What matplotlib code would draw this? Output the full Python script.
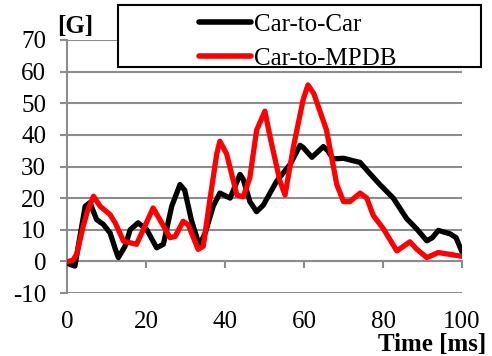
import matplotlib.pyplot as plt
from matplotlib.patches import Rectangle

# Deceleration pulses, time in ms and acceleration in G
car_t = [0, 0.8, 2, 3.3, 4.6, 5.8, 7.5, 9.2, 10.9, 12.2, 13, 14.7, 16, 18, 20.2,
         22.7, 24.4, 26.5, 28.6, 29.8, 31.5, 33.5, 35, 37, 38.7, 41.3, 43.8, 44.6,
         46.3, 48, 49.7, 53.1, 56.5, 59, 59.8, 62, 64.9, 66, 67.4, 70, 72.5, 74.2,
         76.5, 79.2, 82.6, 86, 88.5, 91.1, 92.5, 94, 97, 98.5, 100]
car_g = [-0.3, -1, -1.5, 8, 17.4, 18.6, 13.2, 11.7, 9, 4, 1.2, 4.8, 10, 12.2, 10,
         4.3, 5.4, 17.4, 24.3, 22.5, 13, 5, 9, 17.4, 21.6, 20, 27.5, 26,
         18.9, 15.7, 17.8, 25.4, 30.7, 36.7, 36, 32.9, 36.3, 35, 32.4, 32.6, 31.8, 31.3,
         28, 24.3, 20, 13.5, 10.3, 6.5, 7.5, 9.8, 8.7, 7.5, 3]

mpdb_t = [0, 1.6, 2.5, 4.1, 5.2, 6.7, 8.4, 10.9, 12.2, 14.3, 17.6, 19.7, 21.8, 23.5,
          26.1, 27.4, 29.4, 30.7, 33.2, 34.5, 36, 37.9, 38.7, 40.4, 43, 44.6, 46.3,
          48, 50.1, 51.4, 53.9, 55.2, 57.3, 59.8, 61, 62.5, 65.7, 68.3, 70, 71.6,
          74.2, 75.9, 77.5, 80.1, 83.5, 86.8, 88.5, 91.1, 94, 97, 100]
mpdb_g = [-0.2, 0.5, 2.5, 11.1, 16, 20.6, 17.4, 14.8, 12.2, 6.4, 5.4, 11.1, 16.9, 13.2,
          7.5, 7.9, 12.7, 11.5, 3.8, 4.8, 18, 34, 38, 34, 21, 20.4, 26.5,
          41.5, 47.5, 39.4, 25.4, 21, 36.1, 51.2, 55.8, 53, 41.5, 24.3, 18.9, 18.9,
          21.6, 20, 14.6, 10.3, 3.3, 6.2, 3.9, 1.2, 2.8, 2.2, 1.6]

x_ticks = [0, 20, 40, 60, 80, 100]
y_ticks = [-10, 0, 10, 20, 30, 40, 50, 60, 70]

plt.rcParams['font.family'] = ['Liberation Serif', 'DejaVu Serif']
plt.rcParams['font.size'] = 18
grid_grey = '#8c8c8c'

fig = plt.figure(figsize=(4.92, 3.56), dpi=100)
ax = fig.add_axes([67 / 492, 1 - 293 / 356, 395 / 492, 253 / 356])

# x axis line crosses at zero; set this before the ticks, it resets them
for side in ['top', 'right']:
    ax.spines[side].set_visible(False)
ax.spines['bottom'].set_position(('data', 0))
ax.spines['bottom'].set_color(grid_grey)
ax.spines['bottom'].set_linewidth(1.5)
ax.spines['left'].set_color(grid_grey)
ax.spines['left'].set_linewidth(1.5)

ax.plot(car_t, car_g, color='black', lw=3.8, solid_capstyle='round',
        solid_joinstyle='round', label='Car-to-Car', zorder=3)
ax.plot(mpdb_t, mpdb_g, color='#ff0000', lw=3.8, solid_capstyle='round',
        solid_joinstyle='round', label='Car-to-MPDB', zorder=4)

ax.set_xlim(0, 100)
ax.set_ylim(-10, 70)
ax.set_yticks(y_ticks)
ax.set_yticklabels([str(v) for v in y_ticks], fontsize=18)
ax.set_xticks(x_ticks)
ax.set_xticklabels([str(v) for v in x_ticks], fontsize=18)

ax.yaxis.grid(True, color=grid_grey, lw=1.5)
ax.set_axisbelow(True)
ax.tick_params(axis='both', direction='out', length=5, width=1.5, color=grid_grey)
ax.tick_params(axis='x', pad=31)
ax.tick_params(axis='y', pad=10)

fig.text(75 / 492, 1 - 27 / 356, '[G]', fontsize=18, fontweight='bold',
         ha='center', va='center')
fig.text(432 / 492, 1 - 345 / 356, 'Time [ms]', fontsize=18, fontweight='bold',
         ha='center', va='center')

# legend box drawn separately so the entries can sit off-centre inside it
fig.patches.append(Rectangle((118 / 492, 1 - 67 / 356), 363 / 492, 62 / 356,
                             transform=fig.transFigure, facecolor='white',
                             edgecolor='black', lw=1.5, zorder=0))
leg = fig.legend(loc='upper left', bbox_to_anchor=(186 / 492, 1 - 1 / 356),
                 frameon=False, fontsize=18, handlelength=2.1, handletextpad=0.12,
                 labelspacing=0.45, borderpad=0.0)
for line in leg.get_lines():
    line.set_linewidth(4)

fig.savefig('out.png', dpi=100)
